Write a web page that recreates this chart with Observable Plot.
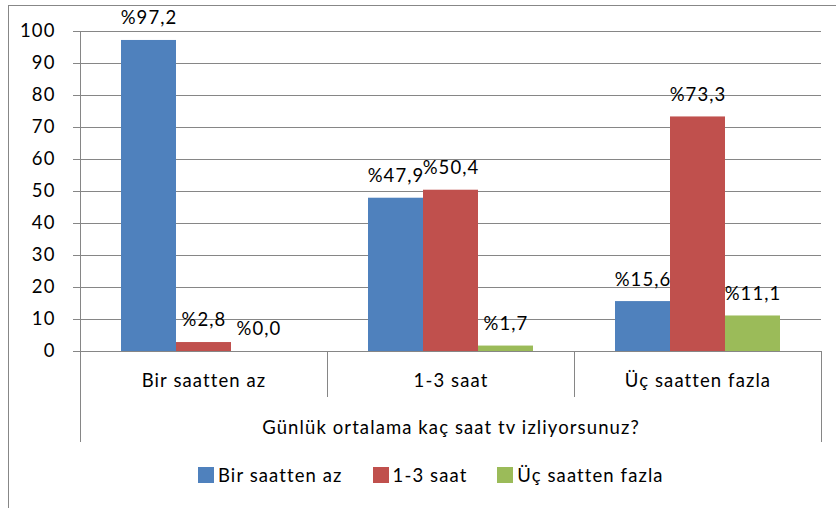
<!DOCTYPE html>
<html><head><meta charset="utf-8">
<script src="https://cdn.jsdelivr.net/npm/d3@7"></script>
<script src="https://cdn.jsdelivr.net/npm/@observablehq/plot@0.6"></script>
<style>
html,body{margin:0;padding:0;background:#fff;}
#wrap{position:relative;width:836px;height:508px;overflow:hidden;font-family:Lato,sans-serif;}
#frame{position:absolute;left:8px;top:5px;width:900px;height:600px;border-left:1px solid #878787;border-top:1px solid #878787;}
#chart{position:absolute;left:0;top:0;}
#legend{position:absolute;left:198px;top:467px;}
#legend .lg-swatches{font-family:Lato,sans-serif !important;font-size:18.5px !important;letter-spacing:1.1px;margin:0 !important;min-height:0 !important;color:#000;display:flex;align-items:center;line-height:16px;}
#legend .lg-swatch{margin-right:30px !important;display:inline-flex;align-items:center;}
#legend .lg-swatch > svg{margin-right:4px !important;}
</style></head><body>
<div id="wrap"><div id="frame"></div><div id="chart"></div><div id="legend"></div></div>
<script>
const categories = ["Bir saatten az", "1-3 saat", "Üç saatten fazla"];
const seriesNames = ["Bir saatten az", "1-3 saat", "Üç saatten fazla"];
const seriesColors = ["#4F81BD", "#C0504D", "#9BBB59"];
const birSaattenAz = [97.2, 47.9, 15.6];
const birUcSaat = [2.8, 50.4, 73.3];
const ucSaattenFazla = [0.0, 1.7, 11.1];
const yTicks = [0, 10, 20, 30, 40, 50, 60, 70, 80, 90, 100];
const axisTitle = "Günlük ortalama kaç saat tv izliyorsunuz?";

const seriesValues = [birSaattenAz, birUcSaat, ucSaattenFazla];
const data = [];
categories.forEach((c, ci) => seriesNames.forEach((s, si) =>
  data.push({category: c, series: s, value: seriesValues[si][ci]})));
const fmt = v => "%" + v.toFixed(1).replace(".", ",");
const grid = "#868686";

const chart = Plot.plot({
  width: 836, height: 455,
  marginTop: 31, marginBottom: 104, marginLeft: 80, marginRight: 15,
  style: {fontFamily: "Lato, sans-serif", fontSize: "18.5px", letterSpacing: "1.1px", color: "#000", background: "transparent", overflow: "visible"},
  fx: {domain: categories, padding: 0, label: null},
  x: {domain: seriesNames, paddingInner: 0, paddingOuter: 0.745, axis: null},
  y: {domain: [0, 100]},
  color: {domain: seriesNames, range: seriesColors},
  marks: [
    Plot.gridY(yTicks, {stroke: grid, strokeOpacity: 1, strokeWidth: 1}),
    Plot.axisY(yTicks, {tickSize: 7, tickPadding: 18, stroke: grid, strokeOpacity: 1, tickFormat: d => d, label: null}),
    Plot.axisFx({anchor: "bottom", tickSize: 0, tickPadding: 22, label: axisTitle, labelAnchor: "center", labelOffset: 82}),
    Plot.barY(data, {fx: "category", x: "series", y: "value", fill: "series"}),
    Plot.text(data, {fx: "category", x: "series", y: "value", text: d => fmt(d.value), dy: -22, lineAnchor: "middle"})
  ]
});
document.getElementById("chart").appendChild(chart);

// category separators drawn from the library's fx and y scales
const fxs = chart.scale("fx"), ys = chart.scale("y");
const yApply = v => ys.apply ? ys.apply(v) : ys.range[0] + (v - ys.domain[0]) / (ys.domain[1] - ys.domain[0]) * (ys.range[1] - ys.range[0]);
const bw = fxs.bandwidth ?? (fxs.range[1] - fxs.range[0]) / fxs.domain.length;
const fxApply = c => fxs.apply ? fxs.apply(c) : fxs.range[0] + fxs.domain.indexOf(c) * bw;
const y0 = yApply(0), yTop = yApply(100);
const starts = categories.map(fxApply);
const end = starts[starts.length - 1] + bw;
const g = d3.select(chart).append("g").attr("stroke", grid).attr("stroke-width", 1).attr("transform", "translate(0.5,0)");
g.append("line").attr("x1", starts[0]).attr("x2", starts[0]).attr("y1", yTop).attr("y2", y0 + 91);
starts.slice(1).forEach(x => g.append("line").attr("x1", x).attr("x2", x).attr("y1", y0).attr("y2", y0 + 46));
g.append("line").attr("x1", end).attr("x2", end).attr("y1", y0).attr("y2", y0 + 91);

const legend = chart.legend("color", {className: "lg", swatchSize: 16});
document.getElementById("legend").appendChild(legend);
</script></body></html>
